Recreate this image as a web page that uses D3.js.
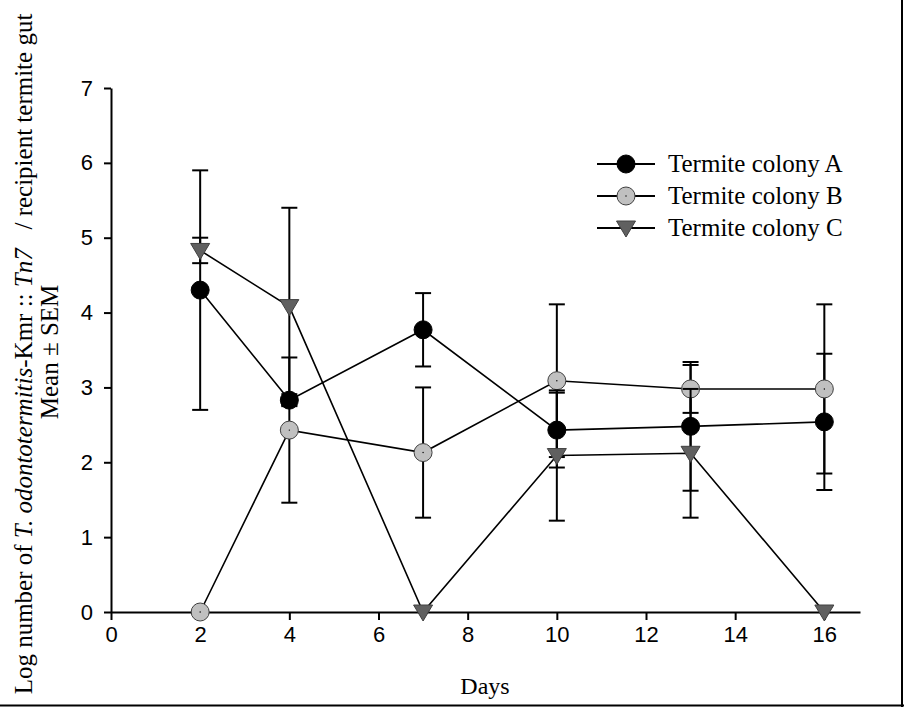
<!DOCTYPE html>
<html>
<head>
<meta charset="utf-8">
<script src="https://cdn.jsdelivr.net/npm/d3@7"></script>
<style>
  body { margin: 0; background: #fff; }
  svg { display: block; }
</style>
</head>
<body>
<div id="chart"></div>
<script>
// data
var days = [2, 4, 7, 10, 13, 16];
var colonyA = [4.30, 2.83, 3.77, 2.43, 2.48, 2.54];
var semA    = [1.60, 0.08, 0.49, 0.50, 0.86, 0.91];
var colonyB = [0.00, 2.43, 2.13, 3.09, 2.98, 2.98];
var semB    = [0.00, 0.97, 0.87, 1.02, 0.32, 1.13];
var colonyC = [4.83, 4.08, 0.00, 2.09, 2.12, 0.00];
var semC    = [0.17, 1.32, 0.00, 0.87, 0.86, 0.00];
var seriesNames = ["Termite colony A", "Termite colony B", "Termite colony C"];
var xTicks = [0, 2, 4, 6, 8, 10, 12, 14, 16];
var yTicks = [0, 1, 2, 3, 4, 5, 6, 7];

var W = 904, H = 707;
var serif = "'Liberation Serif', 'Times New Roman', serif";

var svg = d3.select("#chart")
  .append("svg")
  .attr("width", W)
  .attr("height", H);

// frame on right and bottom edges
svg.append("line").attr("x1", 0).attr("x2", W).attr("y1", 705.5).attr("y2", 705.5)
  .style("stroke", "#000").style("stroke-width", 2);
svg.append("line").attr("x1", 902).attr("x2", 902).attr("y1", 0).attr("y2", H)
  .style("stroke", "#000").style("stroke-width", 2);

var x = d3.scaleLinear().domain([0, 16.8]).range([111, 860]);
var y = d3.scaleLinear().domain([0, 7]).range([612, 88]);

var xAxis = d3.axisBottom(x).tickValues(xTicks).tickFormat(d3.format("d"))
  .tickSize(8).tickSizeOuter(0).tickPadding(6);
var yAxis = d3.axisLeft(y).tickValues(yTicks).tickFormat(d3.format("d"))
  .tickSize(7).tickSizeOuter(0).tickPadding(11);

var gx = svg.append("g")
  .attr("transform", "translate(0," + y(0) + ")")
  .call(xAxis);
var gy = svg.append("g")
  .attr("transform", "translate(" + x(0) + ",0)")
  .call(yAxis);

[gx, gy].forEach(function(g) {
  g.selectAll("path, line").style("stroke", "#000").style("stroke-width", 2);
  g.selectAll("text")
    .style("font-family", "'Liberation Sans', Arial, sans-serif")
    .style("font-size", "22px")
    .style("fill", "#000");
});

var series = [
  { name: seriesNames[0], vals: colonyA, sem: semA, shape: "circle", fill: "#000000", stroke: "#000000" },
  { name: seriesNames[1], vals: colonyB, sem: semB, shape: "circle", fill: "#c0c0c0", stroke: "#404040" },
  { name: seriesNames[2], vals: colonyC, sem: semC, shape: "triangle", fill: "#606060", stroke: "#404040" }
];

var tri = "M-9.5,-7 L9.5,-7 L0,9 Z";

function drawMarker(g, s, cx, cy) {
  if (s.shape == "circle") {
    g.append("circle").attr("cx", cx).attr("cy", cy).attr("r", 9)
      .style("fill", s.fill).style("stroke", s.stroke).style("stroke-width", 1);
    if (s.fill != "#000000") {
      g.append("circle").attr("cx", cx).attr("cy", cy).attr("r", 0.7).style("fill", "#000");
    }
  } else {
    g.append("path").attr("d", tri)
      .attr("transform", "translate(" + cx + "," + cy + ")")
      .style("fill", s.fill).style("stroke", s.stroke).style("stroke-width", 1);
  }
}

var line = d3.line()
  .x(function(d) { return x(d[0]); })
  .y(function(d) { return y(d[1]); });

series.forEach(function(s) {
  var g = svg.append("g");
  var pts = days.map(function(d, i) { return [d, s.vals[i], s.sem[i]]; });

  // error bars
  pts.forEach(function(p) {
    if (p[2] <= 0) return;
    var cx = x(p[0]), top = y(p[1] + p[2]), bot = y(p[1] - p[2]);
    g.append("line").attr("x1", cx).attr("x2", cx).attr("y1", top).attr("y2", bot)
      .style("stroke", "#000").style("stroke-width", 2);
    [top, bot].forEach(function(yy) {
      g.append("line").attr("x1", cx - 8).attr("x2", cx + 8).attr("y1", yy).attr("y2", yy)
        .style("stroke", "#000").style("stroke-width", 2);
    });
  });

  g.append("path").datum(pts).attr("d", line)
    .style("fill", "none").style("stroke", "#000").style("stroke-width", 1.6);

  pts.forEach(function(p) { drawMarker(g, s, x(p[0]), y(p[1])); });
});

// legend
var legY = [164, 196, 228];
series.forEach(function(s, i) {
  var g = svg.append("g");
  g.append("line").attr("x1", 597).attr("x2", 655).attr("y1", legY[i]).attr("y2", legY[i])
    .style("stroke", "#000").style("stroke-width", 2);
  drawMarker(g, s, 626, legY[i]);
  g.append("text").attr("x", 668).attr("y", legY[i] + 8)
    .text(s.name)
    .style("font-family", serif)
    .style("font-size", "25px");
});

// axis titles
svg.append("text")
  .attr("x", 485).attr("y", 694)
  .attr("text-anchor", "middle")
  .text("Days")
  .style("font-family", serif)
  .style("font-size", "24px");

var yt = svg.append("text")
  .attr("transform", "translate(32,354) rotate(-90)")
  .attr("text-anchor", "middle")
  .style("font-family", serif)
  .style("font-size", "25px")
  .attr("xml:space", "preserve");
yt.append("tspan").text("Log number of ");
yt.append("tspan").style("font-style", "italic").text("T. odontotermitis");
yt.append("tspan").text("-Kmr :: ");
yt.append("tspan").style("font-style", "italic").text("Tn7");
yt.append("tspan").text("\u00a0\u00a0 / recipient termite gut");

svg.append("text")
  .attr("transform", "translate(58,352) rotate(-90)")
  .attr("text-anchor", "middle")
  .text("Mean \u00b1 SEM")
  .style("font-family", serif)
  .style("font-size", "25px");
</script>
</body>
</html>
